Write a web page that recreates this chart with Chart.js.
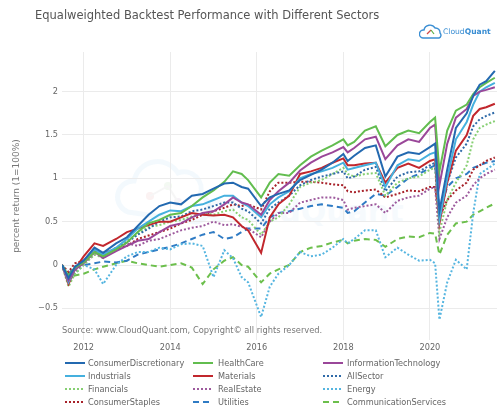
<!DOCTYPE html>
<html><head><meta charset="utf-8">
<script src="https://cdn.jsdelivr.net/npm/chart.js@4.4.1/dist/chart.umd.min.js"></script>
<style>
html,body{margin:0;padding:0;background:#fff;}
#wrap{position:relative;width:499px;height:410px;overflow:hidden;font-family:"DejaVu Sans",sans-serif;}
#c{position:absolute;left:0;top:0;z-index:2;}
#title{position:absolute;left:35px;top:8px;font-size:11.5px;color:#555;white-space:nowrap;z-index:3;}
#logo{position:absolute;left:419px;top:22px;z-index:3;white-space:nowrap;}
#logo span{position:absolute;left:24px;top:5px;font-size:7.6px;color:#3a8ed3;}
#wm{position:absolute;left:0;top:0;z-index:1;}
#source{position:absolute;left:62px;top:325px;font-size:8.3px;color:#777;white-space:nowrap;z-index:3;}
.lg{position:absolute;font-size:8.2px;color:#666;white-space:nowrap;z-index:3;}
.lg svg{position:absolute;left:0;top:0;}
</style></head>
<body>
<div id="wrap">
  <svg id="wm" width="499" height="410">
    <g opacity="0.07" fill="none" stroke="#5aa7de" stroke-width="5">
      <path d="M128,212 a16,16 0 0,1 6,-31 a24,24 0 0,1 44,-8 a17,17 0 0,1 22,22 a14,14 0 0,1 -4,27 z"/>
    </g>
    <g opacity="0.07">
      <circle cx="150" cy="196" r="4" fill="#d05050"/><circle cx="168" cy="186" r="4" fill="#60b050"/><circle cx="178" cy="202" r="4" fill="#9050a0"/>
      <line x1="150" y1="196" x2="168" y2="186" stroke="#888" stroke-width="2"/><line x1="168" y1="186" x2="178" y2="202" stroke="#888" stroke-width="2"/>
    </g>
    <text x="205" y="222" font-family="DejaVu Sans" font-size="30" font-weight="bold" fill="#6fb0e0" opacity="0.06">CloudQuant</text>
  </svg>
  <canvas id="c" width="499" height="410"></canvas>
  <div id="title">Equalweighted Backtest Performance with Different Sectors</div>
  <div id="logo">
    <svg width="24" height="20">
      <path d="M4,16 a4,4 0 0,1 1,-8 a6,6 0 0,1 11,-2 a4.5,4.5 0 0,1 5,5 a3,3 0 0,1 -1,5 z" fill="none" stroke="#3a8ed3" stroke-width="1.4"/>
      <line x1="8" y1="12" x2="12" y2="8" stroke="#d04a4a" stroke-width="1.2"/>
      <line x1="12" y1="8" x2="15" y2="12" stroke="#5cb04a" stroke-width="1.2"/>
    </svg>
    <span>Cloud<b>Quant</b></span>
  </div>
  <div id="source">Source: www.CloudQuant.com, Copyright© all rights reserved.</div>
  <div id="legend"></div>
</div>
<script>
// ---- data ----
const dates = [2011.5, 2011.65, 2011.8, 2012.0, 2012.25, 2012.45, 2012.75, 2013.0, 2013.25, 2013.5, 2013.75, 2014.0, 2014.25, 2014.5, 2014.75, 2015.0, 2015.25, 2015.45, 2015.65, 2015.8, 2016.1, 2016.3, 2016.5, 2016.75, 2017.0, 2017.25, 2017.5, 2017.75, 2018.0, 2018.1, 2018.25, 2018.5, 2018.75, 2018.97, 2019.25, 2019.5, 2019.75, 2020.0, 2020.12, 2020.22, 2020.4, 2020.6, 2020.85, 2021.0, 2021.15, 2021.3, 2021.5];

const consumerDiscretionary = [0, -0.15, -0.02, 0.05, 0.2, 0.14, 0.25, 0.32, 0.45, 0.58, 0.68, 0.72, 0.7, 0.8, 0.82, 0.88, 0.94, 0.95, 0.9, 0.88, 0.68, 0.78, 0.82, 0.86, 0.98, 1.04, 1.1, 1.18, 1.28, 1.2, 1.26, 1.35, 1.38, 1.02, 1.25, 1.3, 1.28, 1.36, 1.4, 0.62, 1.1, 1.58, 1.75, 1.95, 2.08, 2.12, 2.24];
const healthCare = [0, -0.12, -0.03, 0.03, 0.15, 0.1, 0.18, 0.26, 0.38, 0.48, 0.52, 0.58, 0.6, 0.68, 0.78, 0.86, 0.96, 1.08, 1.05, 0.98, 0.78, 0.95, 1.05, 1.03, 1.15, 1.25, 1.32, 1.38, 1.45, 1.38, 1.42, 1.55, 1.6, 1.37, 1.5, 1.55, 1.52, 1.65, 1.7, 1.08, 1.55, 1.78, 1.85, 1.97, 2.05, 2.1, 2.16];
const informationTechnology = [0, -0.18, -0.05, 0.02, 0.15, 0.08, 0.16, 0.22, 0.28, 0.3, 0.38, 0.45, 0.48, 0.55, 0.6, 0.62, 0.7, 0.78, 0.72, 0.7, 0.58, 0.75, 0.85, 0.95, 1.09, 1.18, 1.25, 1.3, 1.36, 1.3, 1.35, 1.45, 1.48, 1.22, 1.38, 1.45, 1.42, 1.58, 1.62, 0.92, 1.4, 1.7, 1.8, 1.95, 2.0, 2.02, 2.05];
const industrials = [0, -0.2, -0.05, 0.05, 0.18, 0.12, 0.2, 0.3, 0.42, 0.5, 0.58, 0.63, 0.62, 0.68, 0.7, 0.75, 0.8, 0.8, 0.72, 0.68, 0.55, 0.7, 0.78, 0.85, 1.0, 1.05, 1.08, 1.12, 1.18, 1.1, 1.12, 1.15, 1.18, 0.9, 1.15, 1.22, 1.2, 1.28, 1.3, 0.52, 1.0, 1.45, 1.65, 1.85, 2.0, 2.05, 2.1];
const materials = [0, -0.22, -0.05, 0.1, 0.25, 0.22, 0.3, 0.38, 0.42, 0.46, 0.5, 0.5, 0.55, 0.6, 0.58, 0.57, 0.58, 0.55, 0.45, 0.4, 0.14, 0.55, 0.7, 0.8, 1.05, 1.08, 1.12, 1.18, 1.23, 1.15, 1.15, 1.17, 1.18, 0.95, 1.12, 1.17, 1.12, 1.2, 1.22, 0.48, 0.95, 1.32, 1.5, 1.72, 1.8, 1.82, 1.86];
const allSector = [0, -0.18, -0.05, 0.04, 0.16, 0.1, 0.2, 0.26, 0.35, 0.42, 0.5, 0.55, 0.56, 0.62, 0.64, 0.68, 0.72, 0.72, 0.65, 0.62, 0.48, 0.65, 0.72, 0.8, 0.92, 0.98, 1.02, 1.05, 1.08, 1.0, 1.02, 1.1, 1.13, 0.85, 1.02, 1.07, 1.08, 1.15, 1.18, 0.5, 0.95, 1.24, 1.4, 1.6, 1.68, 1.72, 1.76];
const financials = [0, -0.25, -0.1, 0.0, 0.12, 0.08, 0.18, 0.28, 0.36, 0.44, 0.46, 0.5, 0.52, 0.56, 0.6, 0.58, 0.62, 0.64, 0.55, 0.52, 0.35, 0.5, 0.55, 0.7, 0.9, 0.95, 0.98, 1.05, 1.12, 1.05, 1.02, 1.05, 1.06, 0.8, 0.95, 1.0, 1.02, 1.1, 1.12, 0.38, 0.75, 0.95, 1.15, 1.45, 1.58, 1.62, 1.66];
const realEstate = [0, -0.2, -0.08, 0.02, 0.12, 0.14, 0.18, 0.25, 0.22, 0.28, 0.3, 0.35, 0.4, 0.43, 0.45, 0.5, 0.46, 0.47, 0.44, 0.42, 0.32, 0.5, 0.6, 0.6, 0.72, 0.75, 0.78, 0.78, 0.75, 0.64, 0.66, 0.68, 0.7, 0.6, 0.74, 0.78, 0.8, 0.88, 0.9, 0.3, 0.55, 0.72, 0.8, 0.92, 1.0, 1.05, 1.1];
const energy = [0, -0.2, -0.1, 0.0, -0.05, -0.22, 0.0, 0.1, 0.15, 0.15, 0.2, 0.18, 0.24, 0.25, 0.22, -0.14, 0.17, 0.08, -0.14, -0.2, -0.6, -0.25, -0.1, 0.0, 0.15, 0.1, 0.12, 0.2, 0.3, 0.25, 0.3, 0.4, 0.4, 0.09, 0.2, 0.12, 0.05, 0.06, 0.02, -0.63, -0.2, 0.06, -0.05, 0.6, 1.05, 1.1, 1.17];
const consumerStaples = [0, -0.08, 0.02, 0.05, 0.15, 0.14, 0.18, 0.22, 0.3, 0.34, 0.38, 0.42, 0.48, 0.52, 0.58, 0.62, 0.66, 0.7, 0.68, 0.7, 0.64, 0.85, 0.95, 0.95, 0.96, 0.96, 0.95, 0.93, 0.92, 0.85, 0.84, 0.86, 0.87, 0.78, 0.82, 0.86, 0.85, 0.9, 0.9, 0.55, 0.75, 0.86, 0.95, 1.1, 1.15, 1.2, 1.24];
const utilities = [0, -0.1, -0.02, 0.0, 0.02, 0.04, 0.03, 0.05, 0.12, 0.15, 0.18, 0.21, 0.25, 0.3, 0.35, 0.38, 0.3, 0.32, 0.38, 0.42, 0.42, 0.55, 0.6, 0.62, 0.65, 0.68, 0.7, 0.68, 0.66, 0.6, 0.62, 0.72, 0.82, 0.8, 0.9, 1.0, 1.05, 1.12, 1.15, 0.62, 0.9, 1.0, 1.05, 1.12, 1.15, 1.18, 1.2];
const communicationServices = [0, -0.15, -0.12, -0.1, -0.05, -0.02, 0.02, 0.05, 0.02, 0.0, -0.02, 0.0, 0.02, -0.03, -0.22, -0.05, 0.05, 0.09, 0.0, -0.02, -0.2, -0.1, -0.05, 0.0, 0.15, 0.2, 0.22, 0.26, 0.29, 0.25, 0.28, 0.3, 0.29, 0.21, 0.3, 0.33, 0.32, 0.37, 0.36, 0.12, 0.35, 0.48, 0.5, 0.58, 0.62, 0.66, 0.71];

const seriesNames = ['ConsumerDiscretionary','HealthCare','InformationTechnology','Industrials','Materials','AllSector','Financials','RealEstate','Energy','ConsumerStaples','Utilities','CommunicationServices'];
const seriesValues = [consumerDiscretionary, healthCare, informationTechnology, industrials, materials, allSector, financials, realEstate, energy, consumerStaples, utilities, communicationServices];
const xTickYears = [2012, 2014, 2016, 2018, 2020];
const yTickValues = [-0.5, 0, 0.5, 1, 1.5, 2];

// ---- styles ----
const seriesColors = ['#2369b0','#62bd4f','#9a4799','#45b0de','#c1272d','#2f6aa8','#86cf72','#9d5a9d','#55b5e0','#a8222a','#2f7bc4','#6cbf4c'];
const seriesDash = [[],[],[],[],[],[2,2],[2,2],[2,2],[2,2],[2,2],[6,4],[6,4]];
const FONT = '"DejaVu Sans", sans-serif';

const datasets = seriesNames.map((name, k) => ({
  label: name,
  data: dates.map((d, i) => ({x: d, y: seriesValues[k][i]})),
  borderColor: seriesColors[k],
  borderWidth: 2,
  borderDash: seriesDash[k],
  pointRadius: 0,
  tension: 0,
  fill: false
}));

new Chart(document.getElementById('c'), {
  type: 'line',
  data: {datasets},
  options: {
    responsive: false,
    animation: false,
    layout: {padding: {top: 52, right: 2, left: 0, bottom: 0}},
    plugins: {legend: {display: false}, tooltip: {enabled: false}, title: {display: false}},
    scales: {
      x: {
        type: 'linear', min: 2011.5, max: 2021.55,
        grid: {color: '#ebebeb', drawTicks: false},
        border: {display: false},
        ticks: {padding: 3, color: '#666', font: {family: FONT, size: 8.2}, maxRotation: 0, callback: v => String(v)},
        afterBuildTicks: s => { s.ticks = xTickYears.map(v => ({value: v})); },
        afterFit: s => { s.height = 70; }
      },
      y: {
        min: -0.865, max: 2.457,
        grid: {color: '#ebebeb', drawTicks: false},
        border: {display: false},
        ticks: {padding: 4, color: '#666', font: {family: FONT, size: 8.2}, callback: v => v < 0 ? '\u2212' + Math.abs(v) : String(v)},
        afterBuildTicks: s => { s.ticks = yTickValues.map(v => ({value: v})); },
        afterFit: s => { s.width = 62; },
        title: {display: true, text: 'percent return (1=100%)', color: '#777', font: {family: FONT, size: 9}, padding: {top: 11, bottom: 0}}
      }
    }
  }
});

// ---- HTML legend (3 columns, row-major) ----
const legend = document.getElementById('legend');
const colLine = [65, 193, 323], colText = [88, 218, 347], rowY = [363, 376, 389, 402];
seriesNames.forEach((name, k) => {
  const col = k % 3, row = Math.floor(k / 3);
  const d = document.createElement('div');
  d.className = 'lg';
  d.style.left = colLine[col] + 'px';
  d.style.top = (rowY[row] - 6) + 'px';
  d.style.height = '12px';
  const dash = seriesDash[k].length ? ` stroke-dasharray="${seriesDash[k].join(',')}"` : '';
  d.innerHTML = `<svg width="22" height="12"><line x1="0" y1="6" x2="20" y2="6" stroke="${seriesColors[k]}" stroke-width="2"${dash}/></svg><span style="position:absolute;left:${colText[col]-colLine[col]}px;top:0;line-height:12px">${name}</span>`;
  legend.appendChild(d);
});
</script>
</body></html>
